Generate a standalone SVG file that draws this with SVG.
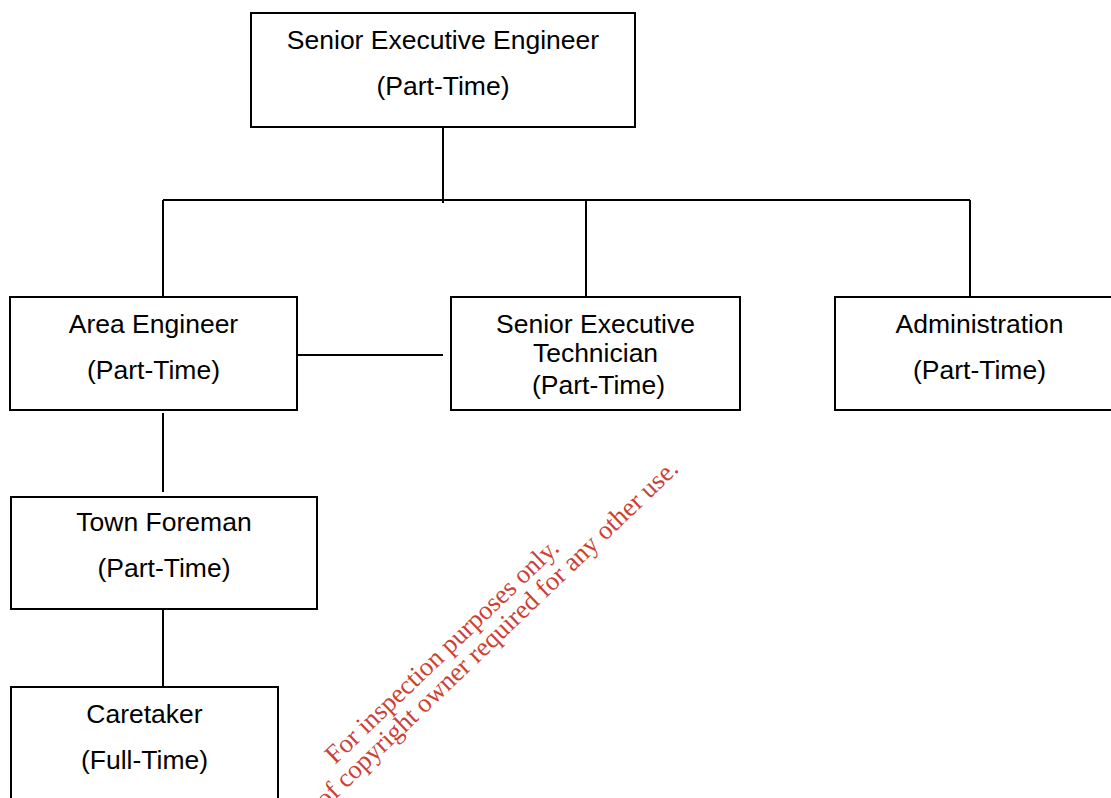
<svg xmlns="http://www.w3.org/2000/svg" width="1111" height="798" viewBox="0 0 1111 798">
<style>
.box{fill:#fff;stroke:#000;stroke-width:2}
.lbl{font-family:"Liberation Sans",Arial,sans-serif;font-size:26.5px;fill:#000;text-anchor:middle}
.ln{stroke:#000;stroke-width:2;fill:none}
.wm{font-family:"Liberation Serif","Times New Roman",serif;font-size:26.5px;fill:#cc4133;text-anchor:middle}
</style>
<rect width="1111" height="798" fill="#fff"/>
<g id="connectors">
<line class="ln" x1="443" y1="128" x2="443" y2="203"/>
<line class="ln" x1="163" y1="200" x2="970" y2="200"/>
<line class="ln" x1="163" y1="200" x2="163" y2="297"/>
<line class="ln" x1="586" y1="200" x2="586" y2="297"/>
<line class="ln" x1="970" y1="200" x2="970" y2="297"/>
<line class="ln" x1="297" y1="355" x2="443" y2="355"/>
<line class="ln" x1="163" y1="413" x2="163" y2="492"/>
<line class="ln" x1="163" y1="607" x2="163" y2="687"/>
</g>
<g id="senior-executive-engineer">
<rect class="box" x="251" y="13" width="384" height="114"/>
<text class="lbl" x="443" y="49">Senior Executive Engineer</text>
<text class="lbl" x="443" y="95">(Part-Time)</text>
</g>
<g id="area-engineer">
<rect class="box" x="10" y="297" width="287" height="113"/>
<text class="lbl" x="153.5" y="333">Area Engineer</text>
<text class="lbl" x="153.5" y="379">(Part-Time)</text>
</g>
<g id="senior-executive-technician">
<rect class="box" x="451" y="297" width="289" height="113"/>
<text class="lbl" x="595.5" y="333">Senior Executive</text>
<text class="lbl" x="595.5" y="362">Technician</text>
<text class="lbl" x="598.5" y="394">(Part-Time)</text>
</g>
<g id="administration">
<rect class="box" x="835" y="297" width="290" height="113"/>
<text class="lbl" x="979.5" y="333">Administration</text>
<text class="lbl" x="979.5" y="379">(Part-Time)</text>
</g>
<g id="town-foreman">
<rect class="box" x="11" y="497" width="306" height="112"/>
<text class="lbl" x="164" y="531">Town Foreman</text>
<text class="lbl" x="164" y="577">(Part-Time)</text>
</g>
<g id="caretaker">
<rect class="box" x="11" y="687" width="267" height="130"/>
<text class="lbl" x="144.5" y="723">Caretaker</text>
<text class="lbl" x="144.5" y="769">(Full-Time)</text>
</g>
<g id="watermark" transform="translate(330,770) rotate(-43.7)">
<text class="wm" x="163" y="0">For inspection purposes only.</text>
<text class="wm" x="168" y="25">Consent of copyright owner required for any other use.</text>
</g>
</svg>
